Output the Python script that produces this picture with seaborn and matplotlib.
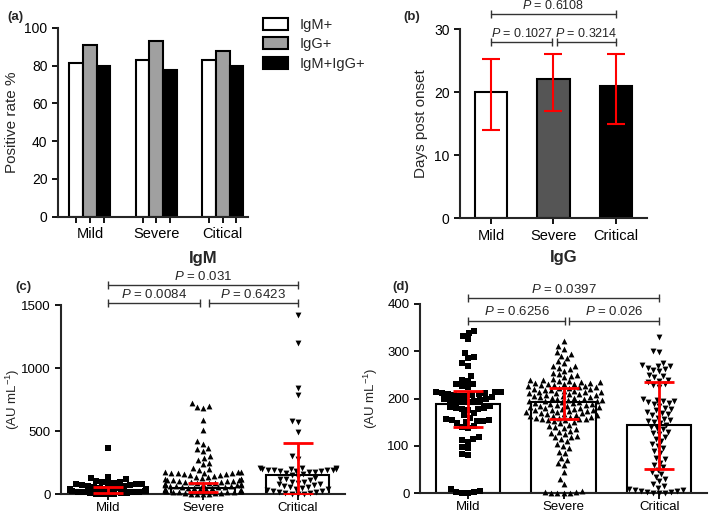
import warnings
import numpy as np
import pandas as pd
import matplotlib
matplotlib.use('Agg')
import matplotlib.pyplot as plt
import seaborn as sns

warnings.filterwarnings('ignore')

# ---- data ----
groups = ['Mild', 'Severe', 'Critical']
groups_a = ['Mild', 'Severe', 'Citical']
antibody = ['IgM+', 'IgG+', 'IgM+IgG+']
rate_igm = [81.5, 83, 83]
rate_igg = [91, 93, 88]
rate_both = [80, 78, 80]

days_median = [20, 22, 21]
days_low = [14, 17, 15]
days_high = [25.3, 26, 26]

igm_median = [35, 50, 150]
igm_low = [12, 20, 0]
igm_high = [60, 92, 409]

igg_median = [189, 192, 145]
igg_low = [140, 158, 52]
igg_high = [217, 222, 235]

igm_mild = [370, 140, 128, 120, 105, 100, 98, 92, 90, 85, 82, 78, 75, 70, 66,
            62, 58, 55, 52, 48, 45, 42, 40, 38, 35, 32, 30, 28, 25, 22, 20, 18,
            15, 12, 10, 8, 6, 5, 3, 2]
igm_severe = [720, 700, 690, 680, 590, 510, 420, 400, 370, 355, 340, 300, 290,
              270, 250, 240, 210, 200, 190, 180, 178, 175, 172, 170, 168, 165,
              160, 158, 155, 150, 145, 140, 135, 130, 125, 120, 118, 115, 112,
              110, 108, 105, 102, 100, 98, 95, 92, 90, 88, 85, 82, 80, 78, 75,
              72, 70, 68, 65, 62, 60, 58, 55, 52, 50, 48, 45, 42, 40, 38, 35,
              32, 30, 28, 25, 22, 20, 18, 15, 12, 10, 8, 5, 3, 2, 1]
igm_critical = [1420, 1200, 840, 790, 580, 570, 490, 300, 280, 210, 208, 205,
                203, 200, 198, 196, 195, 192, 190, 188, 185, 182, 180, 175,
                170, 160, 150, 140, 130, 125, 120, 110, 100, 95, 90, 85, 80,
                70, 65, 60, 55, 50, 45, 40, 35, 30, 25, 20, 15, 10, 8, 5, 3, 0]

igg_mild = [343, 338, 325, 333, 296, 287, 275, 270, 285, 248, 238, 230, 240,
            232, 224, 226, 212, 208, 210, 214, 206, 205, 211, 209, 203, 215,
            207, 213, 198, 196, 200, 195, 193, 199, 197, 194, 182, 180, 178,
            184, 176, 181, 179, 165, 170, 160, 155, 153, 150, 152, 148, 156,
            154, 142, 140, 138, 118, 112, 115, 108, 98, 95, 82, 80, 10, 3, 0,
            0, 2, 5]
igg_severe = [322, 312, 305, 298, 295, 290, 285, 280, 275, 270, 268, 265, 262,
              258, 255, 252, 250, 248, 245, 242, 240, 239, 238, 237, 236, 235,
              234, 233, 232, 231, 230, 229, 228, 227, 226, 225, 224, 223, 222,
              221, 220, 219, 218, 217, 216, 215, 214, 213, 212, 211, 210, 209,
              208, 207, 206, 205, 204, 203, 202, 201, 200, 199, 198, 197, 196,
              195, 194, 193, 192, 191, 190, 189, 188, 187, 186, 185, 184, 183,
              182, 181, 180, 179, 178, 177, 176, 175, 174, 173, 172, 171, 170,
              169, 168, 167, 166, 165, 164, 163, 162, 161, 160, 159, 158, 157,
              156, 155, 154, 152, 150, 148, 145, 142, 140, 138, 135, 132, 130,
              128, 125, 122, 120, 118, 115, 110, 105, 100, 95, 88, 85, 75, 70,
              65, 60, 45, 30, 20, 5, 3, 2, 1, 0, 0, 0]
igg_critical = [330, 300, 298, 275, 272, 270, 268, 265, 262, 260, 258, 250,
                248, 245, 240, 238, 235, 230, 228, 225, 200, 198, 196, 195,
                193, 190, 188, 185, 180, 178, 175, 172, 170, 168, 165, 160,
                158, 155, 152, 150, 148, 145, 140, 138, 135, 130, 128, 125,
                120, 115, 110, 105, 100, 95, 90, 85, 75, 72, 65, 60, 55, 50,
                45, 40, 35, 30, 25, 20, 15, 12, 10, 8, 6, 5, 4, 3, 2, 1, 0, 0]

# (left, right, text, y)
comp_b = [(0, 0.98, 'P = 0.1027', 28.0), (1.05, 2, 'P = 0.3214', 28.0), (0, 2, 'P = 0.6108', 32.4)]
comp_c = [(0, 0.97, 'P = 0.0084', 1513), (1.06, 2, 'P = 0.6423', 1513), (0, 2, 'P = 0.031', 1658)]
comp_d = [(0, 1.02, 'P = 0.6256', 365), (1.06, 2, 'P = 0.026', 365), (0, 2, 'P = 0.0397', 413)]

sns.set_style('ticks')
plt.rcParams['font.family'] = ['Liberation Sans', 'DejaVu Sans']
plt.rcParams['mathtext.fontset'] = 'custom'
plt.rcParams['mathtext.rm'] = 'Liberation Sans'
plt.rcParams['mathtext.it'] = 'Liberation Sans:italic'
plt.rcParams['axes.linewidth'] = 1.5


def style_axis(ax, xsize=10.5, ysize=10, xpad=3.5):
    sns.despine(ax=ax)
    ax.tick_params(axis='both', direction='out', length=4, width=1.3, colors='black')
    ax.tick_params(axis='x', labelsize=xsize, pad=xpad)
    ax.tick_params(axis='y', labelsize=ysize)


def draw_brackets(ax, comps, size=9.5):
    for x1, x2, label, y in comps:
        ax.plot([x1, x2], [y, y], color='#333333', lw=1, clip_on=False)
        ax.plot([x1, x2], [y, y], ls='none', marker='|', ms=6, mew=1,
                color='#333333', clip_on=False)
        txt = label.replace('P', '$P$', 1)
        ax.annotate(txt, xy=((x1 + x2) / 2, y), xytext=(0, 1.5),
                    textcoords='offset points', ha='center', va='bottom',
                    fontsize=size, annotation_clip=False)


def draw_scatter(ax, data, medians, lows, highs, ymax, step, title, comps, label_x):
    sns.barplot(x=groups, y=medians, order=groups, color='white',
                edgecolor='black', linewidth=1.5, width=0.67, errorbar=None, ax=ax)
    for g, vals, m in zip(groups, data, ['s', '^', 'v']):
        d = pd.DataFrame({'group': g, 'value': vals})
        sns.swarmplot(data=d, x='group', y='value', order=groups, marker=m,
                      color='black', size=4.2, ax=ax, zorder=3)
    for coll in ax.collections:
        coll.set_clip_on(False)
    ax.errorbar(range(3), medians,
                yerr=[np.subtract(medians, lows), np.subtract(highs, medians)],
                fmt='none', ecolor='red', elinewidth=2, capsize=11, capthick=2,
                zorder=5)
    ax.set_xlim(-0.5, 2.5)
    ax.set_ylim(0, ymax)
    ax.set_yticks(np.arange(0, ymax + 1, step))
    ax.set_xlabel('')
    ax.set_ylabel(r'(AU mL$^{-1}$)', fontsize=9.5)
    ax.yaxis.set_label_coords(label_x, 0.5)
    ax.set_title(title, fontsize=12, fontweight='bold', pad=30)
    style_axis(ax, xsize=9.5, ysize=9.5, xpad=1.5)
    draw_brackets(ax, comps)


fig = plt.figure(figsize=(7.09, 5.16), dpi=100)
ax_a = fig.add_axes([58 / 709, 1 - 216.7 / 516, 190 / 709, 188.7 / 516])
ax_b = fig.add_axes([460 / 709, 1 - 218.3 / 516, 187 / 709, 189.3 / 516])
ax_c = fig.add_axes([61 / 709, 1 - 494.3 / 516, 284 / 709, 189.3 / 516])
ax_d = fig.add_axes([420 / 709, 1 - 493.3 / 516, 287 / 709, 189.3 / 516])

# (a) positive rate
df_a = pd.DataFrame({'group': groups_a * 3,
                     'antibody': np.repeat(antibody, 3),
                     'rate': rate_igm + rate_igg + rate_both})
sns.barplot(data=df_a, x='group', y='rate', hue='antibody', hue_order=antibody,
            palette={'IgM+': 'white', 'IgG+': '#a0a0a0', 'IgM+IgG+': 'black'},
            edgecolor='black', linewidth=1.5, width=0.62, errorbar=None, ax=ax_a)
centers = sorted(p.get_x() + p.get_width() / 2 for c in ax_a.containers for p in c)
ax_a.set_xticks(centers)
ax_a.set_xticklabels([g if i % 3 == 1 else '' for i, g in
                      enumerate(np.repeat(groups_a, 3))])
ax_a.set_xlim(-0.48, 2.38)
ax_a.set_ylim(0, 100)
ax_a.set_yticks(range(0, 101, 20))
ax_a.set_xlabel('')
ax_a.set_ylabel('Positive rate %', fontsize=11)
style_axis(ax_a)
handles, labels = ax_a.get_legend_handles_labels()
ax_a.legend(handles, labels, loc='upper left', bbox_to_anchor=(250 / 709, 1 - 5 / 516),
            bbox_transform=fig.transFigure, frameon=False, fontsize=10.5,
            handlelength=1.7, handleheight=0.9, labelspacing=0.35)

# (b) days post onset
sns.barplot(x=groups, y=days_median, order=groups, hue=groups,
            palette=['white', '#555555', 'black'], edgecolor='black',
            linewidth=1.5, width=0.52, errorbar=None, legend=False, ax=ax_b)
ax_b.errorbar(range(3), days_median,
              yerr=[np.subtract(days_median, days_low), np.subtract(days_high, days_median)],
              fmt='none', ecolor='red', elinewidth=1.5, capsize=6.5, capthick=1.5, zorder=5)
ax_b.set_xlim(-0.5, 2.5)
ax_b.set_ylim(0, 30)
ax_b.set_yticks([0, 10, 20, 30])
ax_b.set_xlabel('')
ax_b.set_ylabel('Days post onset', fontsize=11)
style_axis(ax_b)
draw_brackets(ax_b, comp_b, size=9)

# (c) IgM, (d) IgG
draw_scatter(ax_c, [igm_mild, igm_severe, igm_critical], igm_median, igm_low,
             igm_high, 1500, 500, 'IgM', comp_c, (22 - 61) / 284)
draw_scatter(ax_d, [igg_mild, igg_severe, igg_critical], igg_median, igg_low,
             igg_high, 400, 100, 'IgG', comp_d, (380 - 420) / 287)

for label, x, y in [('(a)', 7, 17), ('(b)', 403, 17), ('(c)', 15, 287), ('(d)', 392, 287)]:
    fig.text(x / 709, 1 - y / 516, label, fontsize=9.5, fontweight='bold', va='center')

fig.savefig('out.png', dpi=100)
